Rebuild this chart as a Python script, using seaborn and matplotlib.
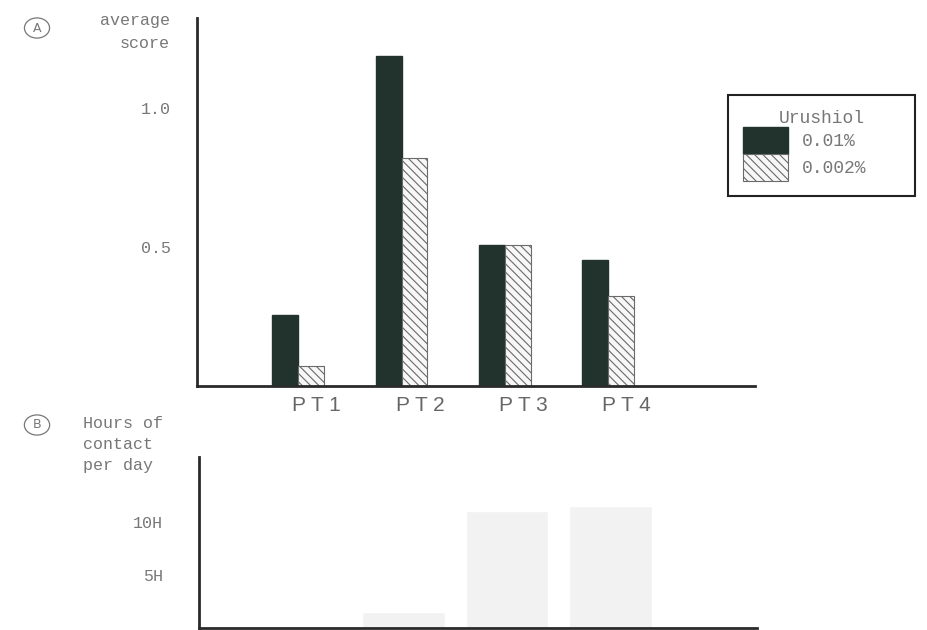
import matplotlib
matplotlib.use("Agg")
import matplotlib.pyplot as plt
import seaborn as sns
import pandas as pd

# data
patients = ["PT1", "PT2", "PT3", "PT4"]
tick_labels = ["P T 1", "P T 2", "P T 3", "P T 4"]
concentrations = ["0.01%", "0.002%"]
score_001 = [0.255, 1.187, 0.507, 0.453]
score_0002 = [0.072, 0.82, 0.507, 0.324]
score_ticks = [0.5, 1.0]
score_tick_labels = ["0.5", "1.0"]
contact_hours = [0.0, 1.5, 11.0, 11.5]
hour_ticks = [5, 10]
hour_tick_labels = ["5H", "10H"]

df = pd.DataFrame({
    "patient": patients * 2,
    "conc": [c for c in concentrations for _ in patients],
    "score": score_001 + score_0002,
})
df_hours = pd.DataFrame({"patient": patients, "hours": contact_hours})

sns.set_theme(style="white")
plt.rcParams["font.family"] = ["Liberation Mono", "DejaVu Sans"]
plt.rcParams["hatch.linewidth"] = 0.8

dark = "#22332d"
txt = "#777777"
axis_col = "#2a2a2a"

fig = plt.figure(figsize=(9.28, 6.3), dpi=100)

# ---- panel A
axA = fig.add_axes([197 / 928, 1 - 386 / 630, 558 / 928, 368 / 630])
sns.barplot(data=df, x="patient", y="score", hue="conc", hue_order=concentrations,
            palette=[dark, "white"], width=0.5, gap=0, saturation=1,
            legend=False, ax=axA)
for bar in axA.containers[0]:
    bar.set_edgecolor(dark)
for bar in axA.containers[1]:
    bar.set_facecolor("#f7f7f7")
    bar.set_edgecolor("#6a6a6a")
    bar.set_linewidth(0.8)
    bar.set_hatch("\\\\\\\\")

axA.set_xlim(-0.98, 4.42)
axA.set_ylim(0, 1.324)
axA.set_xlabel("")
axA.set_ylabel("")
axA.set_yticks(score_ticks, score_tick_labels)
axA.set_xticks([i + 0.18 for i in range(len(patients))], tick_labels,
               fontfamily="Liberation Sans", fontsize=15, color="#666666")
axA.tick_params(axis="y", direction="in", length=6, width=1.8, color=axis_col,
                pad=19, labelsize=12, labelcolor=txt)
axA.tick_params(axis="x", length=0, pad=7)
sns.despine(ax=axA)
for s in ["left", "bottom"]:
    axA.spines[s].set_linewidth(2)
    axA.spines[s].set_color(axis_col)

leg = fig.legend(axA.containers, concentrations, title="Urushiol",
                 loc="upper left", mode="expand", borderaxespad=0,
                 bbox_to_anchor=(728 / 928, 1 - 202 / 630, 187 / 928, 107 / 630),
                 frameon=True, fancybox=False, framealpha=1, edgecolor="#222222",
                 handlelength=2.45, handleheight=1.9, labelspacing=0,
                 handletextpad=0.8, borderpad=0.85, fontsize=13, title_fontsize=13)
leg.get_frame().set_linewidth(1.5)
leg.get_title().set_color(txt)
for t in leg.get_texts():
    t.set_color(txt)

fig.text(170 / 928, 1 - 13 / 630, "average\nscore", ha="right", va="top",
         multialignment="right", fontsize=12, color=txt, linespacing=1.65)
fig.text(37 / 928, 1 - 28 / 630, " A ", ha="center", va="center", fontsize=9,
         color=txt, family="DejaVu Sans",
         bbox=dict(boxstyle="ellipse,pad=0.05", fc="none", ec=txt, lw=0.9))

# ---- panel B
axB = fig.add_axes([199 / 928, 1 - 628 / 630, 558 / 928, 171 / 630])
sns.barplot(data=df_hours, x="patient", y="hours", color="#f2f2f2",
            saturation=1, width=0.8, ax=axB)
axB.set_xlim(-0.98, 4.42)
axB.set_ylim(0, 16.1)
axB.set_xlabel("")
axB.set_ylabel("")
axB.set_xticks([])
axB.set_yticks(hour_ticks, hour_tick_labels)
axB.tick_params(axis="y", direction="in", length=6, width=1.8, color=axis_col,
                pad=26, labelsize=12, labelcolor=txt)
sns.despine(ax=axB)
for s in ["left", "bottom"]:
    axB.spines[s].set_linewidth(2)
    axB.spines[s].set_color(axis_col)

fig.text(83 / 928, 1 - 416 / 630, "Hours of\ncontact\nper day", ha="left",
         va="top", fontsize=12, color=txt, linespacing=1.5)
fig.text(37 / 928, 1 - 425 / 630, " B ", ha="center", va="center", fontsize=9,
         color=txt, family="DejaVu Sans",
         bbox=dict(boxstyle="ellipse,pad=0.05", fc="none", ec=txt, lw=0.9))

fig.savefig("out.png", dpi=100)
